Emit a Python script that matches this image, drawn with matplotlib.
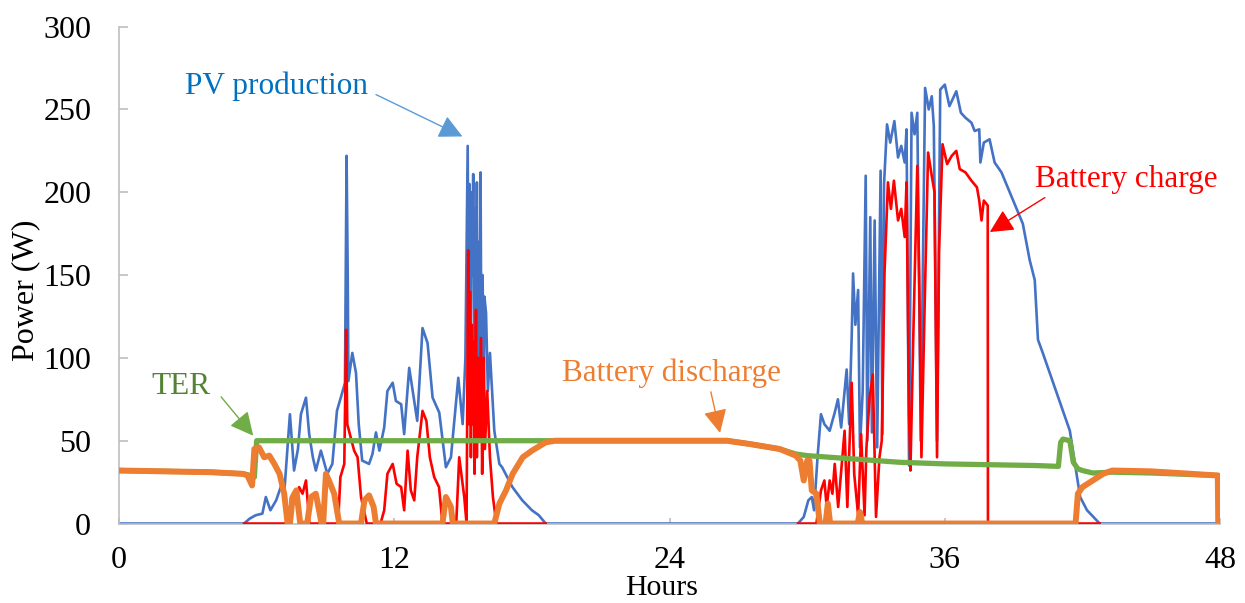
import numpy as np
import matplotlib
matplotlib.use("Agg")
import matplotlib.pyplot as plt

# ---------------- data ----------------
pv_hours = [0, 5.45, 5.7, 5.96, 6.25, 6.4, 6.6, 6.85, 7.05, 7.2, 7.45, 7.63, 7.8, 7.93, 8.15, 8.29, 8.45, 8.58,
            8.8, 9.08, 9.3, 9.5, 9.73, 9.85, 9.92, 9.97, 10.0, 10.17, 10.33, 10.45, 10.6, 10.9, 11.05, 11.2, 11.35,
            11.56, 11.7, 11.93, 12.07, 12.3, 12.43, 12.65, 12.87, 13.0, 13.23, 13.45, 13.67, 13.96, 14.25, 14.47,
            14.79, 14.98, 15.1, 15.2, 15.24, 15.28, 15.32, 15.36, 15.4, 15.44, 15.48, 15.52, 15.56, 15.6, 15.64,
            15.68, 15.72, 15.76, 15.8, 15.85, 15.9, 15.93, 16.0, 16.08, 16.17, 16.36, 16.58, 16.7, 17.15, 17.58,
            18.0, 18.3, 18.6,
            29.6, 29.85, 30.05, 30.2, 30.3, 30.45, 30.6, 30.75, 30.98, 31.2, 31.34, 31.48, 31.72, 31.83, 31.94,
            32.0, 32.1, 32.22, 32.3, 32.42, 32.55, 32.62, 32.75, 32.82, 32.94, 33.05, 33.2, 33.28, 33.35, 33.48,
            33.62, 33.8, 33.96, 34.1, 34.25, 34.33, 34.44, 34.55, 34.68, 34.8, 34.95, 35.14, 35.3, 35.43, 35.52,
            35.66, 35.8, 36.0, 36.2, 36.5, 36.7, 36.9, 37.16, 37.3, 37.5, 37.55, 37.7, 37.95, 38.17, 38.47, 38.98,
            39.4, 39.7, 39.92, 40.06, 40.27, 40.57, 41.0, 41.45, 41.74, 41.9, 42.2, 42.75, 48]
pv_watts = [0, 0, 3, 5, 6, 16, 8, 14, 22, 18, 66, 32, 45, 66, 76, 54, 40, 32,
            44, 30, 36, 68, 79, 85, 222, 150, 86, 103, 91, 60, 38, 36, 42, 55, 44,
            58, 80, 85, 74, 72, 54, 94, 74, 62, 118, 109, 76, 67, 34, 40,
            88, 60, 100, 228, 110, 205, 90, 200, 150, 211, 95, 190, 120, 206, 85,
            170, 100, 212, 90, 150, 80, 137, 127, 80, 103, 56, 36, 34, 22, 14,
            8, 5, 0,
            0, 4, 14, 16, 8, 40, 66, 60, 56, 67, 75, 58, 93, 60, 113,
            151, 120, 141, 46, 80, 210, 50, 185, 55, 183, 46, 213, 54, 205, 241,
            230, 243, 221, 228, 218, 238, 35, 248, 235, 248, 50, 263, 250, 258, 240,
            50, 262, 265, 252, 261, 248, 245, 242, 237, 238, 218, 230, 232, 218, 212, 195,
            181, 159, 147, 111, 103, 91, 74, 56, 30, 16, 8, 0, 0]

charge_hours = [5.45, 7.4, 7.5, 7.7, 7.85, 8.0, 8.15, 8.3, 9.55, 9.65, 9.82, 9.9, 9.95, 10.1, 10.25, 10.4, 10.55,
                10.8, 11.4, 11.56, 11.7, 11.93, 12.1, 12.3, 12.43, 12.58, 12.72, 12.87, 13.0, 13.23, 13.4, 13.55,
                13.74, 13.95, 14.1, 14.7, 14.83, 15.05, 15.15, 15.22, 15.26, 15.3, 15.34, 15.38, 15.42, 15.46,
                15.5, 15.56, 15.6, 15.65, 15.7, 15.78, 15.83, 15.9, 15.95, 16.05, 16.17, 16.3, 16.45, 18.6, np.nan,
                29.6, 30.4, 30.6, 30.75, 30.85, 30.98, 31.1, 31.2, 31.35, 31.63, 31.75, 31.94, 32.05, 32.22, 32.35,
                32.5, 32.58, 32.72, 32.86, 33.0, 33.15, 33.25, 33.37, 33.52, 33.65, 33.78, 33.96, 34.1, 34.25,
                34.33, 34.44, 34.5, 34.62, 34.8, 34.88, 34.98, 35.1, 35.27, 35.43, 35.55, 35.66, 35.75, 35.9,
                36.1, 36.3, 36.5, 36.65, 36.9, 37.16, 37.4, 37.5, 37.6, 37.7, 37.87, 37.88, 42.75]
charge_watts = [0, 0, 16, 12, 22, 18, 26, 0, 0, 28, 36, 117, 60, 52, 44, 40, 16,
                0, 0, 8, 30, 36, 24, 22, 8, 44, 20, 14, 40, 68, 62, 40,
                28, 22, 0, 0, 40, 16, 0, 165, 60, 140, 40, 120, 60, 110,
                30, 129, 40, 100, 50, 112, 30, 100, 45, 80, 40, 16, 0, 0, np.nan,
                0, 0, 20, 26, 10, 26, 18, 36, 10, 56, 10, 85, 30, 5, 54,
                5, 45, 76, 90, 4, 40, 50, 151, 206, 190, 207, 183, 190, 173,
                206, 66, 32, 110, 216, 150, 40, 119, 224, 210, 200, 40, 165, 229,
                217, 222, 225, 214, 212, 207, 203, 195, 183, 195, 192, 0, 0]

discharge_hours = [0, 2, 4, 5.4, 5.6, 5.8, 5.9, 6.1, 6.33, 6.55, 6.77, 7.0, 7.2, 7.35, 7.45, 7.57, 7.73, 7.9,
                   8.2, 8.37, 8.58, 8.83, 8.9, 9.02, 9.15, 9.38, 9.6, 10.55, 10.7, 10.9, 11.1, 11.2, 14.1, 14.25,
                   14.47, 14.55, 16.36, 16.58, 16.87, 17.16, 17.6, 18.0, 18.6, 19.0, 26.5, 27.5, 28.8, 29.5,
                   29.7, 29.85, 30.0, 30.1, 30.2, 30.4, 30.55, 30.8, 30.9, 31.0, 32.2, 32.3, 32.4, 41.7, 41.8,
                   42.0, 42.45, 42.9, 43.3, 45.0, 47.9, 47.92]
discharge_watts = [32, 31.5, 31, 30, 29, 23, 45, 46, 40, 41, 36, 30, 18, 0, 0, 16, 20, 0,
                   0, 16, 18, 0, 0, 30, 26, 18, 0, 0, 14, 17, 10, 0, 0, 16,
                   10, 0, 0, 12, 20, 30, 40, 44, 49, 50, 50, 48, 45, 41,
                   38, 26, 38, 38, 20, 18, 0, 0, 12, 0, 0, 7, 0, 0, 18,
                   22, 26, 30, 32, 31.5, 29, 0]

ter_hours = [0, 2, 4, 5.4, 5.6, 5.9, 6.0, 26.5, 27.5, 28.8, 29.5, 30.0, 31, 32, 33, 34, 35, 36, 38, 40, 40.95,
             41.05, 41.15, 41.45, 41.6, 41.8, 42.0, 42.45, 43.3, 45, 47.9]
ter_watts = [32, 31.5, 31, 30, 29.5, 28, 50, 50, 48, 45, 42, 41, 40, 39, 38, 37, 36.5, 36, 35.5, 35, 34.5,
             49, 51, 50, 37, 33, 32, 30.5, 31, 30.5, 29]

x_ticks = [0, 12, 24, 36, 48]
y_ticks = [0, 50, 100, 150, 200, 250, 300]

# ---------------- styling ----------------
serif = ["Liberation Serif", "DejaVu Serif"]
plt.rcParams["font.family"] = serif

fig = plt.figure(figsize=(12.45, 6.03), dpi=100)
ax = fig.add_axes([0.0956, 0.1318, 0.8844, 0.8240])

ax.plot(pv_hours, pv_watts, color="#4472C4", lw=1.9, zorder=2, solid_joinstyle="round")
ax.plot(charge_hours, charge_watts, color="#FF0000", lw=1.9, zorder=3, solid_joinstyle="round")
ax.plot(ter_hours, ter_watts, color="#70AD47", lw=3.8, zorder=4, solid_joinstyle="round")
ax.plot(discharge_hours, discharge_watts, color="#ED7D31", lw=4.3, zorder=5, solid_joinstyle="round",
        solid_capstyle="butt")

ax.set_xlim(0, 48)
ax.set_ylim(0, 300)
ax.set_xticks(x_ticks)
ax.set_yticks(y_ticks)

for side in ["top", "right"]:
    ax.spines[side].set_visible(False)
for side in ["left", "bottom"]:
    ax.spines[side].set_color("#BFBFBF")
    ax.spines[side].set_linewidth(1.2)

ax.tick_params(axis="y", direction="in", length=6.5, width=1.2, color="#BFBFBF", pad=20, labelsize=23)
ax.tick_params(axis="x", direction="in", length=4, width=1.2, color="#BFBFBF", pad=16, labelsize=23)

ax.set_xlabel("Hours", fontsize=21.5)
ax.xaxis.set_label_coords(0.4927, -0.1045)
ax.set_ylabel("Power (W)", fontsize=23)
ax.yaxis.set_label_coords(-0.0715, 0.469)

# ---------------- annotations ----------------
def arrow(xy, xytext, arrow_color):
    ax.annotate("", xy=xy, xytext=xytext,
                arrowprops=dict(arrowstyle="-|>,head_length=0.9,head_width=0.45", color=arrow_color,
                                lw=1.0, shrinkA=0, shrinkB=0, mutation_scale=16))

ax.text(6.85, 264, "PV production", color="#0070C0", fontsize=22.5, ha="center", va="center")
arrow((14.97, 233.7), (11.2, 259), "#5B9BD5")

ax.text(2.7, 82.5, "TER", color="#548235", fontsize=22.5, ha="center", va="center")
arrow((5.85, 53), (4.45, 76.5), "#70AD47")

ax.text(24.08, 91, "Battery discharge", color="#ED7D31", fontsize=22.5, ha="center", va="center")
arrow((26.2, 54.7), (25.8, 79.5), "#ED7D31")

ax.text(43.9, 207.7, "Battery charge", color="#FF0000", fontsize=22.5, ha="center", va="center")
arrow((37.96, 176), (40.36, 196.8), "#FF0000")

fig.savefig("out.png", dpi=100)
